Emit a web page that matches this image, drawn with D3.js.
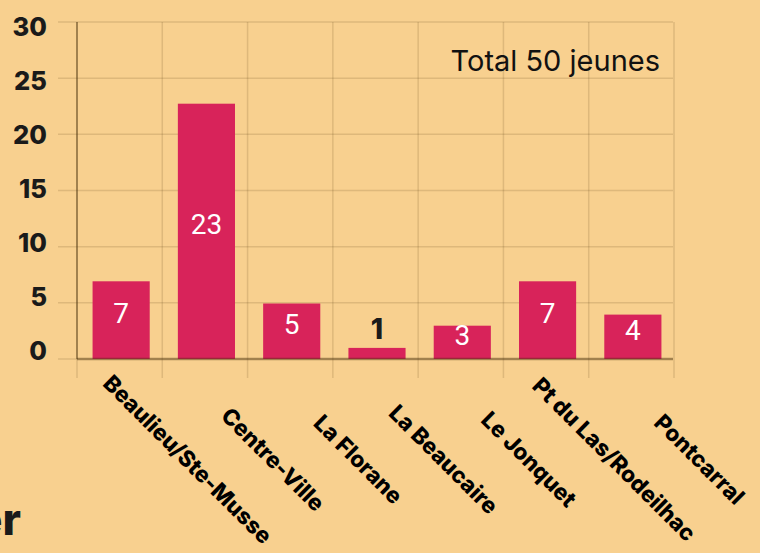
<!DOCTYPE html>
<html>
<head>
<meta charset="utf-8">
<script src="https://cdn.jsdelivr.net/npm/d3@7"></script>
<style>
  html, body { margin: 0; padding: 0; background: #F8D08F; overflow: hidden; }
  svg { display: block; }
</style>
</head>
<body>
<svg id="chart" width="760" height="553"></svg>
<script>
// ---- data ----
const categories = ["Beaulieu/Ste-Musse", "Centre-Ville", "La Florane", "La Beaucaire", "Le Jonquet", "Pt du Las/Rodeilhac", "Pontcarral"];
const values = [7, 23, 5, 1, 3, 7, 4];
const yTicks = [0, 5, 10, 15, 20, 25, 30];
const totalLabel = "Total 50 jeunes";
const cutTitle = "er";

// ---- layout ----
const W = 760, H = 553;
const plotL = 77, plotR = 674, plotB = 359, plotT = 22;
const BG = "#F8D08F", BAR = "#D8235A", INK = "#1a1a1a";
const GRID = "rgba(90,60,20,0.16)", AXIS = "rgba(70,45,10,0.42)";
const boldFont = "Inter, 'Open Sans', sans-serif";

const svg = d3.select("#chart");
svg.append("rect").attr("width", W).attr("height", H).attr("fill", BG);

const x = d3.scaleBand().domain(categories).range([plotL + 1.5, plotR + 1.5]).paddingInner(0.33).paddingOuter(0.165);
const y = d3.scaleLinear().domain([0, 30]).range([plotB, plotT]);      // grid
const yBar = d3.scaleLinear().domain([0, 30]).range([plotB, 26]);      // bars
const yLab = d3.scaleLinear().domain([0, 30]).range([351, 27]);        // tick labels

// horizontal grid
svg.append("g").selectAll("line").data(yTicks).join("line")
  .attr("x1", plotL - 19).attr("x2", plotR - 1)
  .attr("y1", d => y(d)).attr("y2", d => y(d))
  .attr("stroke", GRID).attr("stroke-width", 1.5);

// vertical grid at band boundaries
const step = (plotR - plotL) / categories.length;
const bounds = d3.range(categories.length + 1).map(i => plotL + i * step);
svg.append("g").selectAll("line").data(bounds).join("line")
  .attr("x1", d => d).attr("x2", d => d)
  .attr("y1", plotT).attr("y2", plotB + 19)
  .attr("stroke", GRID).attr("stroke-width", 1.5);

// bars
svg.append("g").selectAll("rect").data(values).join("rect")
  .attr("x", (d, i) => x(categories[i]))
  .attr("width", x.bandwidth())
  .attr("y", d => yBar(d))
  .attr("height", d => yBar(0) - yBar(d))
  .attr("fill", BAR);

// axis lines
svg.append("line").attr("x1", plotL).attr("x2", plotL).attr("y1", plotT).attr("y2", plotB)
  .attr("stroke", AXIS).attr("stroke-width", 2);
svg.append("line").attr("x1", plotL).attr("x2", plotR - 1).attr("y1", plotB).attr("y2", plotB)
  .attr("stroke", AXIS).attr("stroke-width", 2.5);

// y tick labels
svg.append("g").selectAll("text").data(yTicks).join("text")
  .attr("x", 47).attr("y", d => yLab(d))
  .attr("dy", "0.36em")
  .attr("text-anchor", "end")
  .attr("font-family", boldFont).attr("font-weight", 800).attr("font-size", 25.5)
  .attr("fill", INK)
  .text(d => d);

const small = d => (yBar(0) - yBar(d)) < 25;

// value labels
svg.append("g").selectAll("text").data(values).join("text")
  .attr("x", (d, i) => x(categories[i]) + x.bandwidth() / 2)
  .attr("y", d => small(d) ? yBar(d) - 9 : (yBar(d) + yBar(0)) / 2 + 3)
  .attr("text-anchor", "middle")
  .attr("font-family", d => small(d) ? boldFont : "Roboto, sans-serif")
  .attr("font-weight", d => small(d) ? 800 : 400)
  .attr("font-size", 28)
  .attr("fill", d => small(d) ? INK : "#ffffff")
  .text(d => d);

// category labels (rotated)
svg.append("g").selectAll("text").data(categories).join("text")
  .attr("transform", d => `translate(${x(d) + x.bandwidth() / 2 + 61},${465}) rotate(45)`)
  .attr("text-anchor", "middle")
  .attr("font-family", boldFont).attr("font-weight", 800).attr("font-size", 22.5)
  .attr("fill", "#000")
  .text(d => d);

// total annotation
svg.append("text")
  .attr("x", 660).attr("y", 71)
  .attr("text-anchor", "end")
  .attr("font-family", "Inter, sans-serif").attr("font-weight", 400).attr("font-size", 29)
  .attr("fill", "#111")
  .text(totalLabel);

// cut-off title fragment at bottom-left
svg.append("text")
  .attr("x", 21).attr("y", 535)
  .attr("text-anchor", "end")
  .attr("font-family", boldFont).attr("font-weight", 800).attr("font-size", 44)
  .attr("fill", INK)
  .text(cutTitle);
</script>
</body>
</html>
